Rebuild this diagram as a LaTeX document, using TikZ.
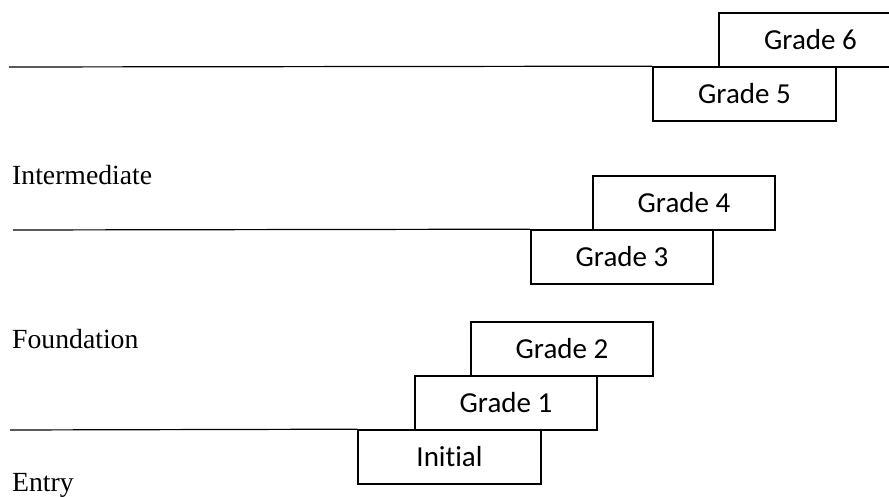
\documentclass[tikz,border=0pt]{standalone}
\usepackage{fontspec}
\setmainfont{Liberation Serif}
\newfontfamily\boxfont[Ligatures={NoCommon}]{Carlito}
\begin{document}
\begin{tikzpicture}[x=1pt,y=1pt,
  gradebox/.style={draw=black, line width=1.6pt, minimum width=182.5pt, minimum height=54pt, inner sep=0pt, font=\boxfont\fontsize{29}{32}\selectfont},
  levellabel/.style={anchor=base west, inner sep=0pt, font=\fontsize{27.7}{30}\selectfont},
  levelline/.style={draw=black, line width=1.2pt}]
\useasboundingbox (0,0) rectangle (889,497);
\clip (0,0) rectangle (889,497);
\node[gradebox] (g6) at (810.5,457) {Grade 6};
\node[gradebox] (g5) at (744.5,403) {Grade 5};
\node[gradebox] (g4) at (684,294) {Grade 4};
\node[gradebox] (g3) at (622,240) {Grade 3};
\node[gradebox] (g2) at (562,148) {Grade 2};
\node[gradebox] (g1) at (506,94) {Grade 1};
\node[gradebox] (init) at (449.5,40) {Initial};
\coordinate (l1) at (9,430);
\coordinate (l2) at (13,267);
\coordinate (l3) at (10,67);
\draw[levelline] (l1) -- (g5.north west);
\draw[levelline] (l2) -- (g3.north west);
\draw[levelline] (l3) -- (init.north west);
\node[levellabel] (intermediate) at (12,312) {Intermediate};
\node[levellabel] (foundation) at (12,148) {Foundation};
\node[levellabel] (entry) at (12,5) {Entry};
\end{tikzpicture}
\end{document}
